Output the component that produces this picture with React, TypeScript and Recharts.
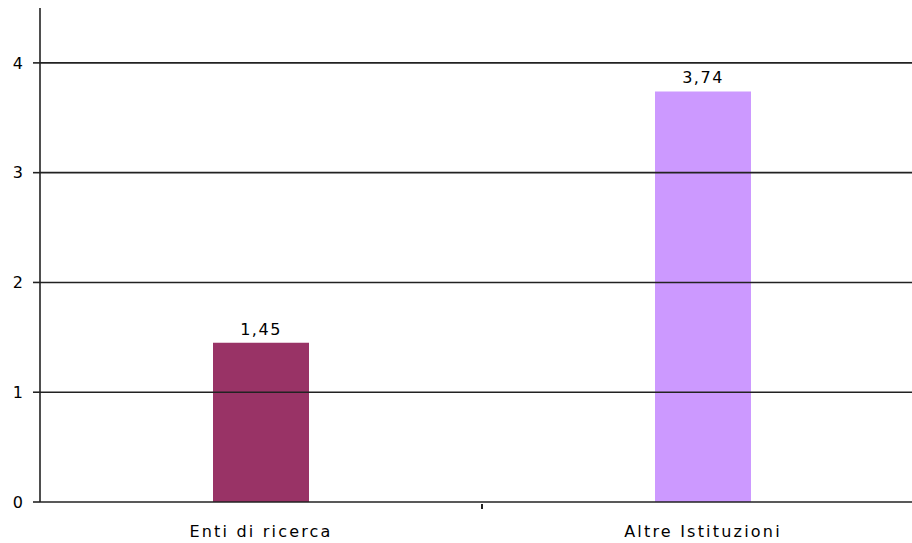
import { BarChart, Bar, XAxis, YAxis, ReferenceLine, LabelList, Cell } from 'recharts'

const categories = ['Enti di ricerca', 'Altre Istituzioni']
const values = [1.45, 3.74]
const barColors = ['#993366', '#CC99FF']
const yTicks = [0, 1, 2, 3, 4]

const W = 932
const H = 543
const LEFT = 40
const RIGHT = 8
const FONT = '"DejaVu Sans", Verdana, sans-serif'
const LINE = '#222'

const data = categories.map((name, i) => ({ name, value: values[i] }))
const band = (W - LEFT - RIGHT) / categories.length

const XTick = (props: any) => {
  const { x, y, payload, index } = props
  return (
    <g>
      {index === 0 && (
        <line x1={x + band / 2} x2={x + band / 2} y1={y - 6} y2={y - 1} stroke={LINE} strokeWidth={2} />
      )}
      <text x={x} y={y + 27} textAnchor="middle" fontSize={16} letterSpacing={2.2} fontFamily={FONT} fill="#000">
        {payload.value}
      </text>
    </g>
  )
}

export default function App() {
  return (
    <div style={{ position: 'absolute', left: 0, top: 0, width: 912, height: H, overflow: 'hidden', background: '#fff' }}>
      <BarChart width={W} height={H} data={data} margin={{ top: 8, right: RIGHT, bottom: 11, left: 0 }} barCategoryGap={0}>
        <XAxis dataKey="name" height={30} tickLine={false} tick={<XTick />} axisLine={{ stroke: LINE, strokeWidth: 1.6 }} />
        <YAxis width={LEFT} domain={[0, 4.5]} ticks={yTicks} tickSize={7} tickMargin={10}
          axisLine={{ stroke: LINE, strokeWidth: 1.6 }} tickLine={{ stroke: LINE, strokeWidth: 1.6 }}
          tick={{ fontSize: 16, fontFamily: FONT, fill: '#000' }} />
        {yTicks.slice(1).map(t => (
          <ReferenceLine key={t} y={t} stroke={LINE} strokeWidth={1.6} />
        ))}
        <Bar dataKey="value" barSize={96} isAnimationActive={false}>
          {data.map((_, i) => <Cell key={i} fill={barColors[i]} />)}
          <LabelList dataKey="value" position="top" offset={8}
            formatter={(v: any) => String(v).replace('.', ',')}
            style={{ fontSize: 16, letterSpacing: 1.5, fontFamily: FONT, fill: '#000' }} />
        </Bar>
      </BarChart>
    </div>
  )
}
